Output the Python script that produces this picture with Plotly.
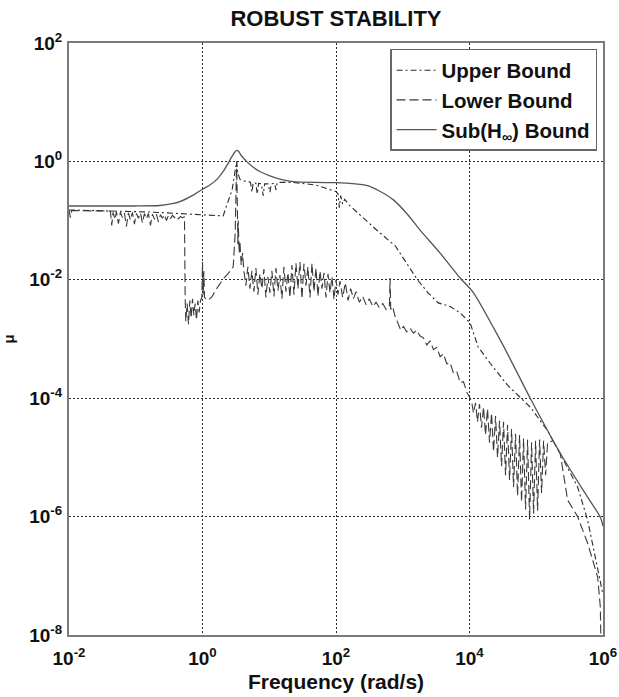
import plotly.graph_objects as go

# ---------------- data (exponents of 10) ----------------
# Sub(H_inf) bound (solid)
sub_freq_exp = [-2.0, -1.0, -0.64, -0.45, -0.34, -0.14, 0.0, 0.11, 0.22, 0.31, 0.39, 0.44, 0.48,
                0.51, 0.54, 0.58, 0.66, 0.76, 0.86, 1.0, 1.16, 1.36, 1.7, 2.0, 2.25, 2.47, 2.65,
                2.86, 3.06, 3.26, 3.56, 3.86, 4.06, 4.5, 4.91, 5.36, 5.7, 5.96, 6.0]
sub_mu_exp = [-0.753, -0.753, -0.745, -0.715, -0.68, -0.57, -0.47, -0.40, -0.30, -0.17, -0.02, 0.08, 0.15,
              0.185, 0.17, 0.10, 0.0, -0.10, -0.17, -0.24, -0.30, -0.34, -0.355, -0.36, -0.375, -0.41, -0.50,
              -0.65, -0.88, -1.16, -1.55, -1.97, -2.22, -3.1, -4.0, -4.93, -5.55, -6.01, -6.16]

# Upper bound (dash-dot)
upper_freq_exp = [-2.0, -1.5, -0.79, -0.2, 0.31, 0.354, 0.40, 0.444, 0.49, 0.511, 0.53, 0.56, 0.62,
                  0.69, 0.72, 0.74, 0.76, 0.80, 0.82, 0.84, 0.88, 0.91, 0.93, 0.98, 1.01, 1.03, 1.08,
                  1.10, 1.12, 1.16, 1.36, 1.70, 2.00, 2.03, 2.05, 2.07, 2.10, 2.13, 2.20, 2.36, 2.60,
                  2.89, 3.06, 3.22, 3.38, 3.53, 3.71, 3.86, 4.01, 4.13, 4.31, 4.57, 4.91, 5.17, 5.36,
                  5.62, 5.77, 5.86, 5.96, 6.0]
upper_mu_exp = [-0.82, -0.83, -0.855, -0.89, -0.92, -0.77, -0.62, -0.48, -0.15, 0.0, -0.20, -0.30, -0.33,
                -0.34, -0.36, -0.52, -0.36, -0.37, -0.55, -0.37, -0.38, -0.58, -0.38, -0.38, -0.52, -0.38, -0.37,
                -0.48, -0.36, -0.355, -0.355, -0.40, -0.51, -0.55, -0.78, -0.58, -0.72, -0.64, -0.74, -0.905, -1.15,
                -1.43, -1.72, -2.00, -2.22, -2.39, -2.45, -2.56, -2.73, -3.135, -3.41, -3.78, -4.15, -4.55, -4.94,
                -5.50, -6.06, -6.56, -7.12, -7.32]

# Lower bound (dashed, noisy)
lower_freq_exp = [
    -2.00, -1.98, -1.96, -1.40,
    -1.38, -1.36, -1.34, -1.31, -1.29, -1.26, -1.23, -1.20, -1.17, -1.14, -1.11, -1.08, -1.05, -1.02,
    -0.99, -0.96, -0.93, -0.90, -0.87, -0.84, -0.81, -0.78, -0.75, -0.72, -0.69, -0.66, -0.63, -0.60,
    -0.57, -0.54, -0.51, -0.48, -0.45, -0.42, -0.39, -0.36, -0.33, -0.30, -0.27,
    -0.26, -0.25, -0.23, -0.21, -0.19, -0.17, -0.15, -0.13, -0.11, -0.09, -0.07, -0.05, -0.03,
    -0.01, 0.00, 0.01, 0.02, 0.03,
    0.08, 0.14, 0.20, 0.26, 0.32, 0.38, 0.44, 0.46,
    0.49, 0.505, 0.511, 0.52, 0.53, 0.535, 0.55, 0.56, 0.58, 0.60, 0.62,
    0.65, 0.68, 0.71, 0.74, 0.77, 0.80, 0.83, 0.86, 0.89, 0.92, 0.95, 0.98, 1.01, 1.04, 1.07, 1.10,
    1.13, 1.16, 1.19, 1.22, 1.25, 1.28, 1.31, 1.34, 1.37, 1.40, 1.43, 1.46, 1.49, 1.52, 1.55, 1.58,
    1.61, 1.64, 1.67, 1.70, 1.73, 1.76, 1.79, 1.82, 1.85, 1.88, 1.91, 1.94, 1.97, 2.00, 2.03, 2.06,
    2.10, 2.14, 2.18, 2.22, 2.26, 2.30, 2.35, 2.40, 2.45, 2.50, 2.55, 2.60, 2.65, 2.70, 2.75, 2.80,
    2.81, 2.82, 2.85, 2.88,
    2.93, 2.97, 3.01, 3.06, 3.11, 3.16, 3.21, 3.26, 3.31, 3.36, 3.41, 3.46, 3.51, 3.56, 3.61, 3.66,
    3.71, 3.76, 3.81, 3.86, 3.91, 3.96, 4.00,
    4.03, 4.06, 4.09, 4.12, 4.15, 4.18, 4.21, 4.24, 4.27, 4.30, 4.33, 4.36, 4.39, 4.42, 4.45, 4.48,
    4.51, 4.54, 4.57, 4.60, 4.63, 4.66, 4.69, 4.72, 4.75, 4.78, 4.81, 4.84, 4.87, 4.90, 4.93, 4.96,
    4.99, 5.02, 5.05, 5.08, 5.11, 5.14, 5.17,
    5.25, 5.36, 5.47, 5.62, 5.77, 5.92, 5.96, 5.97]
lower_mu_exp = [
    -0.82, -0.95, -0.83, -0.83,
    -0.84, -1.08, -0.86, -0.98, -0.85, -1.05, -0.86, -0.95, -0.87, -1.10, -0.87, -0.99, -0.86, -1.06,
    -0.88, -0.96, -0.87, -1.04, -0.88, -0.97, -0.88, -1.08, -0.89, -0.98, -0.89, -1.02, -0.90, -0.96,
    -0.90, -1.00, -0.91, -0.97, -0.91, -0.95, -0.92, -0.97, -0.93, -0.95, -0.94,
    -2.30, -2.70, -2.40, -2.75, -2.35, -2.65, -2.32, -2.60, -2.40, -2.68, -2.35, -2.55, -2.35,
    -2.30, -1.70, -2.25, -1.85, -2.30,
    -2.35, -2.29, -2.17, -2.07, -1.97, -1.90, -1.82, -1.78,
    -1.20, -0.50, 0.00, -0.60, -1.40, -1.00, -1.55, -1.35, -1.75, -1.55, -1.85,
    -2.10, -1.78, -2.15, -1.85, -2.20, -1.80, -2.25, -1.90, -2.15, -1.82, -2.30, -1.95, -2.22, -1.85, -2.28, -1.80,
    -2.18, -1.92, -2.32, -1.78, -2.20, -1.88, -2.30, -1.75, -2.25, -1.72, -2.15, -1.70, -2.32, -1.73, -2.10, -1.78,
    -2.30, -1.72, -2.20, -1.80, -2.28, -1.85, -2.15, -1.88, -2.30, -1.90, -2.22, -1.95, -2.33, -2.00, -2.25, -2.02,
    -2.30, -2.05, -2.35, -2.15, -2.32, -2.20, -2.38, -2.28, -2.42, -2.32, -2.45, -2.38, -2.47, -2.40, -2.50, -2.45,
    -1.97, -2.50, -2.45, -2.60,
    -2.75, -2.85, -2.79, -2.88, -2.82, -2.90, -2.85, -2.95, -2.98, -3.10, -3.03, -3.18, -3.14, -3.30, -3.25, -3.42,
    -3.40, -3.58, -3.55, -3.74, -3.72, -3.90, -3.98,
    -4.05, -4.25, -4.08, -4.40, -4.10, -4.50, -4.15, -4.62, -4.18, -4.75, -4.25, -4.90, -4.30, -5.00, -4.38, -5.15,
    -4.40, -5.30, -4.45, -5.38, -4.52, -5.50, -4.60, -5.65, -4.62, -5.75, -4.68, -5.88, -4.70, -6.05, -4.75, -5.95,
    -4.72, -5.90, -4.70, -5.60, -4.72, -5.30, -4.75,
    -4.72, -4.94, -5.72, -6.00, -6.45, -7.02, -7.53, -8.20]

x_tick_vals = [1e-2, 1e0, 1e2, 1e4, 1e6]
x_tick_text = ["10<sup>-2</sup>", "10<sup>0</sup>", "10<sup>2</sup>", "10<sup>4</sup>", "10<sup>6</sup>"]
y_tick_vals = [1e-8, 1e-6, 1e-4, 1e-2, 1e0, 1e2]
y_tick_text = ["10<sup>-8</sup>", "10<sup>-6</sup>", "10<sup>-4</sup>", "10<sup>-2</sup>", "10<sup>0</sup>", "10<sup>2</sup>"]

series_names = ["Upper Bound", "Lower Bound", "Sub(H<sub>∞</sub>) Bound"]


def p10(v):
    return [10 ** e for e in v]


FONT = "Liberation Sans, Arial, sans-serif"

fig = go.Figure()
fig.add_trace(go.Scatter(x=p10(upper_freq_exp), y=p10(upper_mu_exp), mode="lines", name=series_names[0],
                         line=dict(color="#2a2a2a", width=1.1, dash="6px,3px,2px,3px")))
fig.add_trace(go.Scatter(x=p10(lower_freq_exp), y=p10(lower_mu_exp), mode="lines", name=series_names[1],
                         line=dict(color="#3a3a3a", width=1.1, dash="9px,4px")))
fig.add_trace(go.Scatter(x=p10(sub_freq_exp), y=p10(sub_mu_exp), mode="lines", name=series_names[2],
                         line=dict(color="#555555", width=1.3, shape="spline", smoothing=0.6)))

axis_common = dict(
    type="log", showline=True, mirror=True, linecolor="#7a7a7a", linewidth=2,
    showgrid=True, gridcolor="#2a2a2a", gridwidth=1, griddash="2px,2px",
    ticks="", zeroline=False, automargin=False,
    tickfont=dict(family=FONT, size=19, color="#111111", weight="bold"),
)

fig.update_layout(
    width=619, height=697,
    margin=dict(l=69, r=16, t=43, b=62),
    paper_bgcolor="white", plot_bgcolor="white",
    title=dict(text="ROBUST STABILITY", x=0.5, xref="paper", xanchor="center",
               y=1 - 18 / 697, yref="container", yanchor="middle",
               font=dict(family=FONT, size=22, color="#111111", weight="bold")),
    xaxis=dict(axis_common, range=[-2, 6], tickvals=x_tick_vals, ticktext=x_tick_text,
               ticklabelstandoff=5,
               title=dict(text="Frequency (rad/s)", standoff=7,
                          font=dict(family=FONT, size=21, color="#111111", weight="bold"))),
    yaxis=dict(axis_common, range=[-8, 2], tickvals=y_tick_vals, ticktext=y_tick_text,
               ticklabelstandoff=1,
               title=dict(text="μ", standoff=13,
                          font=dict(family=FONT, size=15, color="#111111", weight="bold"))),
    showlegend=True,
    legend=dict(x=0.9888, y=0.99, xanchor="right", yanchor="top",
                bgcolor="white", bordercolor="#666666", borderwidth=1.5,
                font=dict(family=FONT, size=20.5, color="#111111", weight="bold"),
                itemwidth=40, tracegroupgap=0),
)

# remove the browser's default 8px page margin so the 619x697 figure fills the window
fig.write_html("out.html", config={"displayModeBar": False},
               post_script="document.body.style.margin='0';")
